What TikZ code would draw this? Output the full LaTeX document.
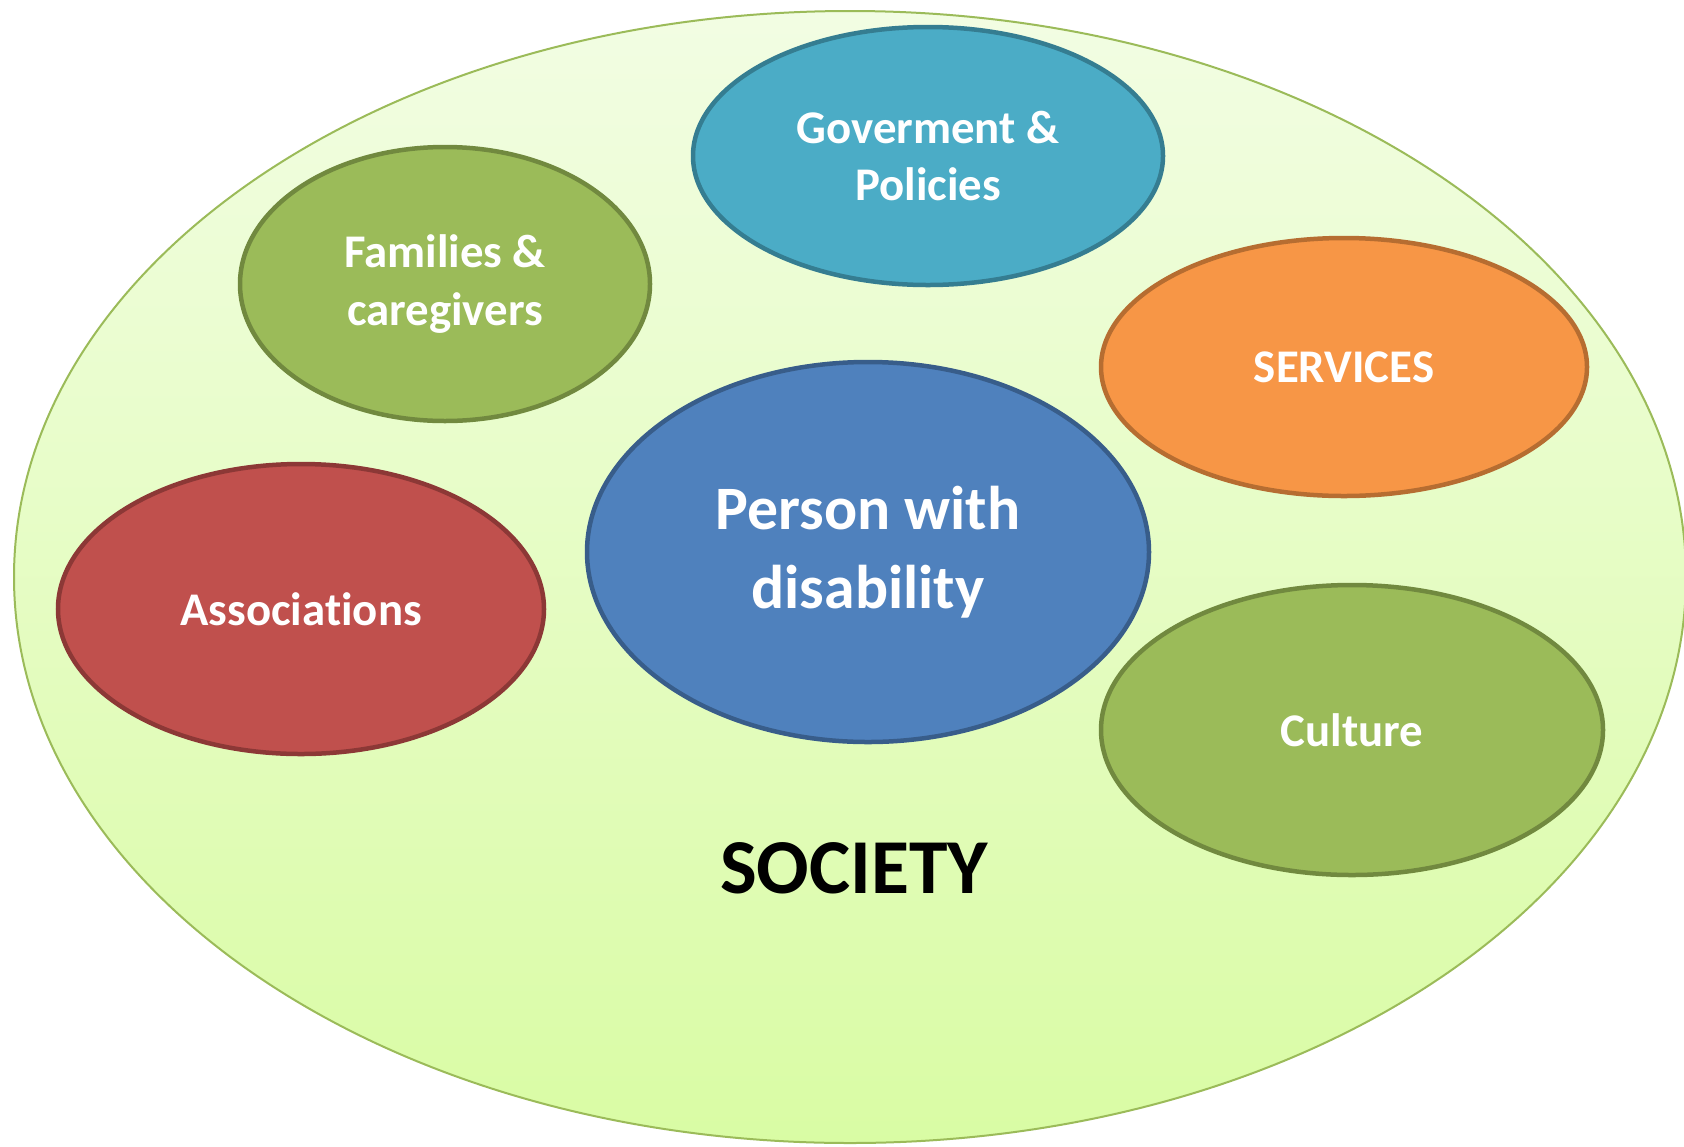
\documentclass[tikz,border=0pt]{standalone}
\usepackage{fontspec}
\setmainfont[Ligatures={NoCommon,NoDiscretionary}]{Carlito}
\usepackage{xcolor}
\usetikzlibrary{shapes.geometric}
\definecolor{societyTopColor}{HTML}{F2FDE3}
\definecolor{societyBottomColor}{HTML}{D9FCA4}
\definecolor{societyLineColor}{HTML}{9BBB59}
\definecolor{fillColorA}{HTML}{4BACC6}
\definecolor{fillColorB}{HTML}{9BBB59}
\definecolor{fillColorC}{HTML}{F79646}
\definecolor{fillColorD}{HTML}{4F81BD}
\definecolor{fillColorE}{HTML}{C0504D}
\definecolor{fillColorF}{HTML}{9BBB59}
\definecolor{lineColorA}{HTML}{357D91}
\definecolor{lineColorB}{HTML}{71893F}
\definecolor{lineColorC}{HTML}{B66D31}
\definecolor{lineColorD}{HTML}{385D8A}
\definecolor{lineColorE}{HTML}{8C3836}
\definecolor{lineColorF}{HTML}{71893F}
\def\textA{Goverment \&\\Policies}
\def\textB{Families \&\\caregivers}
\def\textC{SERVICES}
\def\textD{Person with\\disability}
\def\textE{Associations}
\def\textF{Culture}
\tikzset{
  group/.style={ellipse, inner sep=0pt, line width=4.5bp, text=white,
    align=center, font=\bfseries\fontsize{47}{58}\selectfont},
}

\begin{document}
\begin{tikzpicture}[x=1bp,y=-1bp]
\useasboundingbox (0, 0) rectangle (1684, 1146);

% society
\begin{scope}
\shade[top color=societyTopColor, bottom color=societyBottomColor]
(850, 577) ellipse [x radius=836, y radius=566];
\draw[color=societyLineColor, line width=2bp]
(850, 577) ellipse [x radius=836, y radius=566];
\end{scope}

% groups
\begin{scope}
\node[group, fill=fillColorA, draw=lineColorA, minimum width=470bp,
minimum height=258bp] (gov) at (928, 156) {\textA};
\node[group, fill=fillColorB, draw=lineColorB, minimum width=410bp,
minimum height=274bp] (families) at (445, 284) {\textB};
\node[group, fill=fillColorC, draw=lineColorC, minimum width=486bp,
minimum height=258bp] (services) at (1344, 367) {\textC};
\node[group, fill=fillColorD, draw=lineColorD, minimum width=562bp,
minimum height=380bp, font=\bfseries\fontsize{62}{79}\selectfont]
(person) at (868, 552) {\textD};
\node[group, fill=fillColorE, draw=lineColorE, minimum width=486bp,
minimum height=290bp] (assoc) at (301, 609) {\textE};
\node[group, fill=fillColorF, draw=lineColorF, minimum width=502bp,
minimum height=290bp] (culture) at (1352, 730) {\textF};
\end{scope}

% label
\node[font=\bfseries\fontsize{78}{90}\selectfont] (society) at (854, 868)
{SOCIETY};

\end{tikzpicture}
\end{document}
